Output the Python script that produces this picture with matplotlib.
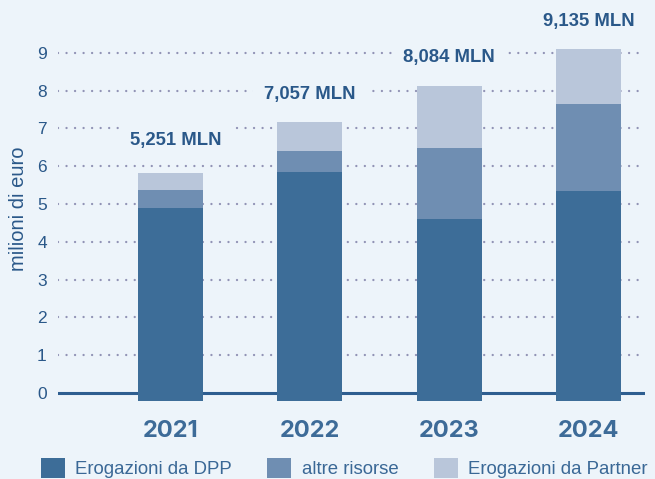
import matplotlib
matplotlib.use("Agg")
import matplotlib.pyplot as plt
import numpy as np

# data (milioni di euro)
years = ["2021", "2022", "2023", "2024"]
dpp = [4.89, 5.85, 4.60, 5.34]
altre = [0.48, 0.55, 1.88, 2.31]
partner = [0.45, 0.77, 1.64, 1.45]
totali = ["5,251 MLN", "7,057 MLN", "8,084 MLN", "9,135 MLN"]
serie = ["Erogazioni da DPP", "altre risorse", "Erogazioni da Partner"]

bg = "#edf4fa"
c_dpp = "#3d6d98"
c_altre = "#6f8eb2"
c_partner = "#b9c6da"
txt = "#2a5889"

plt.rcParams["font.family"] = ["Liberation Sans", "DejaVu Sans"]

fig = plt.figure(figsize=(6.55, 4.79), dpi=100, facecolor=bg)
ax = fig.add_axes([0.0885, 0.1628, 0.8962, 0.806])
ax.set_facecolor(bg)

base = -0.21  # bars hang a little below the zero line
x = np.arange(len(years))
w = 0.468
dpp_a = np.array(dpp)
altre_a = np.array(altre)
partner_a = np.array(partner)

ax.bar(x, dpp_a - base, bottom=base, width=w, color=c_dpp, label=serie[0], zorder=3)
ax.bar(x, altre_a, bottom=dpp_a, width=w, color=c_altre, label=serie[1], zorder=3)
ax.bar(x, partner_a, bottom=dpp_a + altre_a, width=w, color=c_partner, label=serie[2], zorder=3)

tops = dpp_a + altre_a + partner_a
offs = [0.86, 0.72, 0.75, 0.73]
for i in range(len(years)):
    ax.text(x[i] + (0.04 if i == 0 else 0), tops[i] + offs[i], totali[i],
            ha="center", va="center", fontsize=13.3, fontweight="bold", color=txt,
            zorder=4, clip_on=False,
            bbox=dict(boxstyle="square,pad=0.6", fc=bg, ec="none"))

for v in range(1, 10):
    ax.axhline(v, color="#9193b5", lw=1.7, ls=(0, (0.01, 3.6)), dash_capstyle="round", zorder=1)
ax.axhline(0, color="#2e5e90", lw=2.2, zorder=2)

ax.set_xlim(-0.809, 3.406)
ax.set_ylim(base, 10.0)
ax.set_yticks(range(0, 10))
ax.tick_params(axis="y", length=0, pad=8, labelsize=12.5, labelcolor=txt)
ax.tick_params(axis="x", length=0, pad=14)
ax.set_xticks(x)
ax.set_xticklabels(years, fontsize=17, fontweight="bold", color="#3d6b98", family=["Inter", "DejaVu Sans"])
for s in ax.spines.values():
    s.set_visible(False)

fig.text(19 / 655, 1 - 209 / 479, "milioni di euro", rotation=90, ha="center", va="center",
         fontsize=14.5, color=txt)

leg = fig.legend(loc="upper left", bbox_to_anchor=(41 / 655, 1 - 458 / 479), ncol=3, frameon=False,
                 fontsize=13.4, handlelength=1.29, handleheight=1.3, handletextpad=0.55,
                 columnspacing=1.9, borderaxespad=0, borderpad=0)
for t in leg.get_texts():
    t.set_color("#3a6896")

fig.savefig("out.png", dpi=100, facecolor=bg)
